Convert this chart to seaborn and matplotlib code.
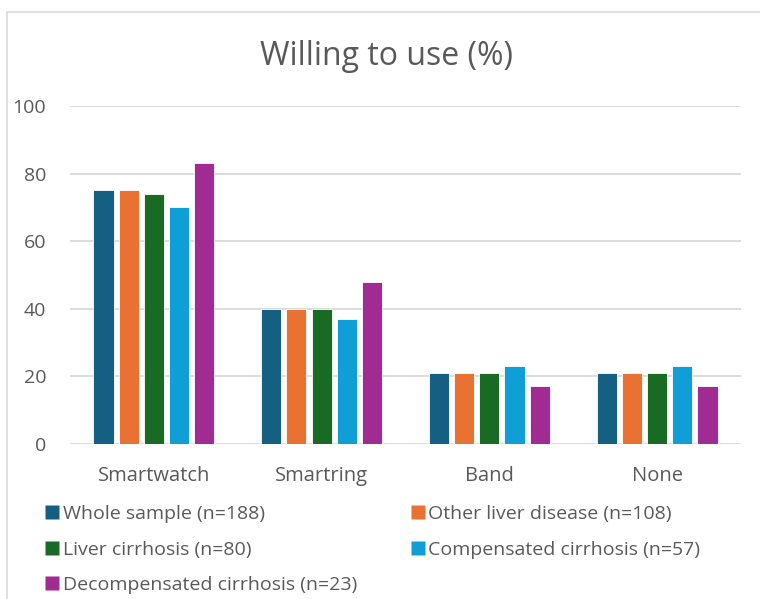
import matplotlib
matplotlib.use("Agg")
import matplotlib.pyplot as plt
from matplotlib.lines import Line2D
import pandas as pd
import seaborn as sns

# data
devices = ["Smartwatch", "Smartring", "Band", "None"]
groups = ["Whole sample (n=188)", "Other liver disease (n=108)",
          "Liver cirrhosis (n=80)", "Compensated cirrhosis (n=57)",
          "Decompensated cirrhosis (n=23)"]
whole = [75, 40, 21, 21]
other = [75, 40, 21, 21]
cirrhosis = [74, 40, 21, 21]
compensated = [70, 37, 23, 23]
decompensated = [83, 48, 17, 17]
colors = ["#156082", "#E97132", "#196B24", "#0F9ED5", "#A02B93"]

rows = []
for g, vals in zip(groups, [whole, other, cirrhosis, compensated, decompensated]):
    for d, v in zip(devices, vals):
        rows.append({"device": d, "group": g, "pct": v})
df = pd.DataFrame(rows)

sns.set_style("white")
plt.rcParams["font.family"] = ["Open Sans", "DejaVu Sans"]
text_col = "#595959"

fig = plt.figure(figsize=(7.6, 5.99), dpi=100)
ax = fig.add_axes([0.092, 0.259, 0.883, 0.564])

sns.barplot(data=df, x="device", y="pct", hue="group", hue_order=groups,
            palette=colors, saturation=1, width=0.75, gap=0.2, ax=ax,
            edgecolor="white", linewidth=0.6, legend=False)

ax.set_ylim(0, 100)
ax.set_yticks(range(0, 101, 20))
ax.yaxis.grid(True, color="#d9d9d9", linewidth=1.3)
ax.set_axisbelow(True)
for s in ax.spines.values():
    s.set_visible(False)
ax.set_xlabel("")
ax.set_ylabel("")
ax.tick_params(axis="x", length=0, pad=16, labelsize=14.5, labelcolor=text_col)
ax.tick_params(axis="y", length=0, pad=17, labelsize=14, labelcolor=text_col)
ax.set_xlim(-0.5, 3.5)

fig.text(0.509, 0.905, "Willing to use (%)", ha="center", va="center",
         fontsize=23, color=text_col)

# legend, row-wise order like the original
handles = [Line2D([], [], marker="s", linestyle="", markersize=10.5,
                  markerfacecolor=c, markeredgecolor="none") for c in colors]
order = [0, 2, 4, 1, 3]
fig.legend([handles[i] for i in order], [groups[i] for i in order],
           ncol=2, loc="upper left", bbox_to_anchor=(0.033, 0.186),
           frameon=False, fontsize=14, labelcolor=text_col,
           handletextpad=0.05, handlelength=1.0, columnspacing=2.6,
           labelspacing=0.9)

# chart area border
fig.add_artist(Line2D([0.0086, 0.0086], [0, 0.98], color="#d9d9d9",
                      linewidth=1.2, transform=fig.transFigure))
fig.add_artist(Line2D([0.0086, 1.0], [0.98, 0.98], color="#d9d9d9",
                      linewidth=1.2, transform=fig.transFigure))

fig.savefig("out.png", dpi=100)
